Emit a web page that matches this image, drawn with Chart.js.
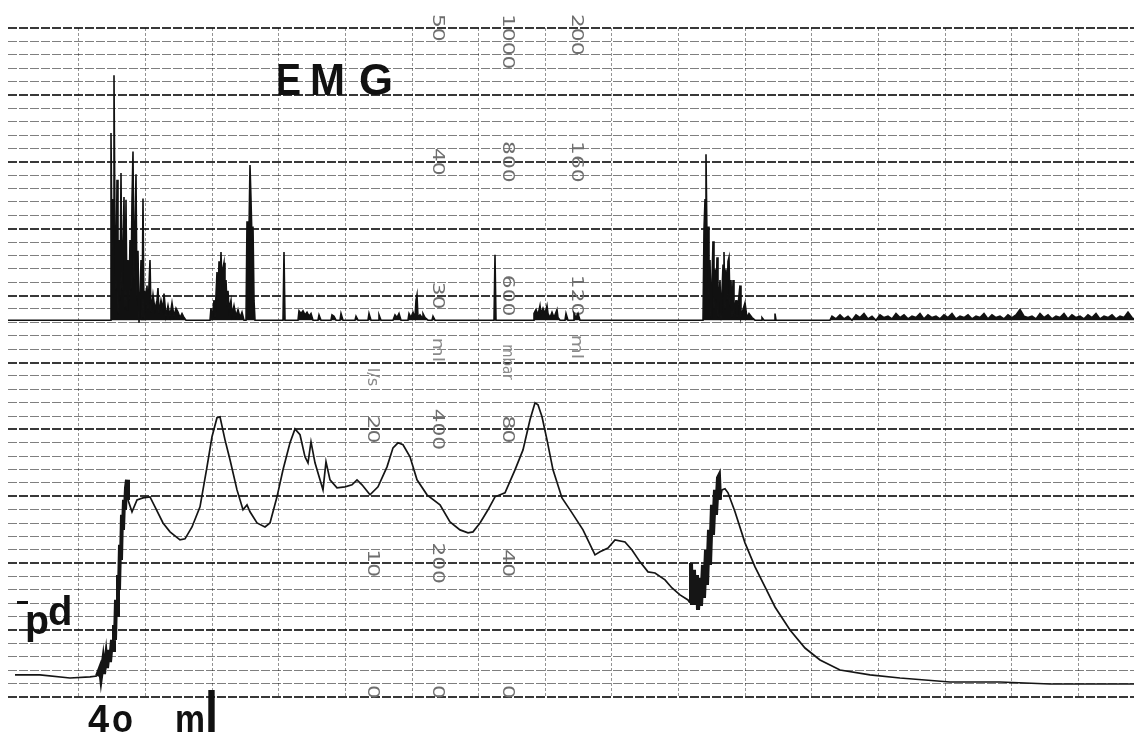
<!DOCTYPE html>
<html>
<head>
<meta charset="utf-8">
<script src="https://cdn.jsdelivr.net/npm/chart.js@4.4.1/dist/chart.umd.min.js"></script>
<style>
  html, body { margin: 0; padding: 0; background: #fff; }
  #wrap { width: 1134px; height: 734px; }
</style>
</head>
<body>
<div id="wrap"><canvas id="trace" width="1134" height="734"></canvas></div>
<script>
// flow trace: [time s, flow ml/s]  (pd channel, lower half of the strip)
const flowTrace = [
  [0.45,1.65],[4.2,1.65],[8.7,1.42],[11.7,1.5],[12.75,1.57],[13.2,2.17],[13.35,1.5],[13.65,2.62],
  [13.8,1.72],[14.1,2.99],[14.25,2.17],[14.55,3.52],[14.7,2.62],[15.0,4.26],[15.15,3.52],[15.3,5.39],
  [15.45,4.26],[15.6,7.26],[15.75,6.13],[15.9,9.12],[16.05,8.0],[16.2,11.37],[16.35,10.25],[16.5,13.61],
  [16.65,12.49],[16.8,14.73],[16.95,13.99],[17.1,15.63],[17.25,16.23],[17.4,14.73],[18.0,13.84],[18.75,14.73],
  [19.65,14.88],[20.7,14.96],[21.45,14.21],[22.65,13.01],[23.7,12.34],[25.2,11.74],[25.95,11.82],[27.0,12.71],
  [28.2,14.21],[29.25,17.2],[30.0,19.45],[30.75,20.87],[31.2,20.94],[31.95,19.22],[32.7,17.73],[33.75,15.48],
  [34.65,13.99],[35.25,14.36],[35.7,13.84],[36.75,13.01],[37.95,12.71],[38.7,13.01],[39.75,14.96],[40.65,16.98],
  [41.7,19.0],[42.45,20.04],[43.2,19.6],[43.95,17.95],[44.4,17.5],[44.85,19.07],[45.45,17.5],[46.2,16.23],
  [46.65,15.48],[47.1,17.58],[47.7,16.23],[48.75,15.63],[49.95,15.71],[51.0,15.86],[51.75,16.23],[52.5,15.86],
  [53.7,15.11],[54.9,15.71],[56.25,17.2],[57.15,18.62],[57.9,19.0],[58.65,18.85],[59.7,17.95],[60.75,16.23],
  [62.25,15.11],[64.2,14.36],[65.7,13.09],[67.2,12.49],[68.4,12.27],[69.15,12.34],[70.2,13.01],[71.4,13.99],
  [72.45,14.96],[73.95,15.26],[75.45,16.98],[76.65,18.47],[77.7,20.72],[78.45,21.99],[78.9,21.84],[79.5,20.94],
  [80.25,19.22],[81.15,16.98],[82.5,14.88],[84.0,13.76],[85.65,12.49],[87.45,10.62],[88.2,10.85],[89.4,11.14],
  [90.45,11.74],[91.95,11.59],[93.0,10.99],[94.2,10.1],[95.4,9.35],[96.45,9.27],[97.95,8.75],[99.0,8.15],
  [100.2,7.63],[101.4,7.25],[101.7,7.03],[101.85,10.02],[102.0,7.4],[102.3,9.5],[102.45,6.88],[102.75,9.12],
  [102.9,6.51],[103.2,8.9],[103.35,6.81],[103.65,9.87],[103.8,7.4],[104.1,10.99],[104.25,8.38],[104.55,12.49],
  [104.7,9.87],[105.0,14.36],[105.15,12.12],[105.45,15.48],[105.6,13.61],[105.9,16.38],[106.05,16.53],[106.2,14.73],
  [106.5,15.48],[106.95,15.56],[107.4,15.26],[108.45,13.84],[109.95,11.52],[111.45,9.72],[112.95,8.23],[114.45,6.73],
  [116.7,5.01],[118.95,3.66],[121.2,2.77],[124.2,2.02],[128.7,1.65],[133.2,1.42],[140.7,1.12],[148.2,1.12],
  [155.7,0.97],[168.3,0.97]
];

// EMG activity: [time s, amplitude above baseline]
const emgBurst1 = [
  [-0.6,0],[14.7,0],[14.85,140],[15.0,52],[15.15,90],[15.3,183],[15.45,68],[15.6,22],[15.75,105],[15.9,4],
  [16.05,60],[16.2,15],[16.35,110],[16.5,22],[16.65,52],[16.8,92],[16.95,8],[17.1,90],[17.25,8],[17.4,45],
  [17.55,15],[17.7,60],[17.85,22],[18.0,90],[18.15,126],[18.3,30],[18.45,68],[18.6,109],[18.75,15],[18.9,52],
  [19.05,-2],[19.2,15],[19.35,45],[19.5,0],[19.65,91],[19.8,0],[19.95,22],[20.1,11],[20.25,26],[20.4,8],
  [20.7,45],[20.85,6],[21.15,19],[21.45,8],[21.75,15],[21.9,24],[22.05,5],[22.35,15],[22.65,8],[22.8,20],
  [23.1,3],[23.4,11],[23.7,3],[24.0,13],[24.3,3],[24.6,9],[24.9,6],[25.2,2],[25.5,5],[25.8,2],[26.1,0]
];
const emgBurst2 = [
  [29.7,0],[29.85,9],[30.0,0],[30.3,15],[30.45,2],[30.75,36],[30.9,15],[31.05,44],[31.2,22],[31.35,51],
  [31.5,26],[31.65,39],[31.8,43],[31.95,19],[32.1,30],[32.25,11],[32.4,22],[32.55,8],[32.85,15],[33.0,4],
  [33.3,11],[33.6,3],[33.9,8],[34.2,2],[34.5,6],[34.8,0],[35.1,0],[35.25,74],[35.4,15],[35.55,68],
  [35.7,116],[35.85,90],[36.0,60],[36.15,70],[36.3,15],[36.45,0],[40.65,0],[40.8,51],[40.95,0]
];
const emgMid = [
  [42.9,0],[43.05,7],[43.35,5],[43.65,7],[43.95,4],[44.25,6],[44.55,3],[44.85,5],[45.15,0],[45.9,0],
  [46.05,4],[46.35,0],[47.85,0],[48.0,4],[48.3,3],[48.6,0],[49.2,0],[49.35,5],[49.65,0],[51.45,0],
  [51.6,3],[51.9,0],[53.4,0],[53.55,5],[53.85,0],[54.9,0],[55.05,4],[55.35,0],[57.15,0],[57.45,4],
  [57.75,2],[58.05,5],[58.35,0],[59.4,0],[59.55,5],[59.85,2],[60.15,6],[60.45,2],[60.6,15],[60.75,19],
  [60.9,2],[61.2,4],[61.5,2],[61.65,5],[61.95,2],[62.4,0],[63.0,0],[63.15,3],[63.45,0],[72.3,0],
  [72.45,49],[72.6,0],[78.15,0],[78.3,5],[78.6,8],[78.9,4],[79.2,11],[79.35,5],[79.65,9],[79.95,5],
  [80.25,11],[80.4,5],[80.7,2],[81.0,6],[81.3,2],[81.75,8],[81.9,2],[82.2,0],[82.95,0],[83.1,5],
  [83.4,0],[84.15,0],[84.3,5],[84.6,2],[84.9,5],[85.2,0]
];
const emgBurst3 = [
  [103.65,0],[103.8,68],[103.95,90],[104.1,124],[104.25,60],[104.4,70],[104.55,15],[104.7,45],[104.85,2],[105.0,30],
  [105.15,59],[105.3,8],[105.45,38],[105.6,15],[105.75,47],[105.9,2],[106.05,15],[106.2,30],[106.35,0],[106.5,22],
  [106.65,41],[106.8,51],[106.95,8],[107.1,38],[107.25,15],[107.4,44],[107.55,47],[107.7,11],[107.85,30],[108.0,2],
  [108.15,30],[108.3,4],[108.6,15],[108.75,2],[108.9,11],[109.2,26],[109.35,2],[109.65,8],[109.95,13],[110.25,2],
  [110.55,5],[111.0,2],[111.45,0],[112.35,0],[112.5,2],[112.8,0],[114.3,0],[114.45,5],[114.6,0],[122.7,0]
];
const emgTail = [
  [123.0,3],[123.6,1],[124.2,4],[124.8,1],[125.4,3],[126.0,0],[126.6,4],[127.2,2],[127.8,5],[128.4,1],
  [129.0,3],[129.6,0],[130.2,4],[130.8,2],[131.4,3],[132.0,1],[132.6,5],[133.2,2],[133.8,4],[134.4,1],
  [135.0,3],[135.6,2],[136.2,5],[136.8,1],[137.4,4],[138.0,2],[138.6,3],[139.2,1],[139.8,4],[140.4,2],
  [141.0,5],[141.6,1],[142.2,3],[142.8,2],[143.4,4],[144.0,1],[144.6,3],[145.2,2],[145.8,5],[146.4,1],
  [147.0,4],[147.6,2],[148.2,3],[148.8,1],[149.4,4],[150.0,2],[150.6,4],[151.2,8],[151.8,3],[152.4,2],
  [153.0,3],[153.6,1],[154.2,5],[154.8,2],[155.4,4],[156.0,1],[156.6,3],[157.2,2],[157.8,5],[158.4,1],
  [159.0,4],[159.6,2],[160.2,3],[160.8,1],[161.4,4],[162.0,2],[162.6,5],[163.2,1],[163.8,3],[164.4,2],
  [165.0,4],[165.6,1],[166.2,3],[166.8,2],[167.4,6],[168.0,2],[168.3,1]
];
const emgTrace = [...emgBurst1, ...emgBurst2, ...emgMid, ...emgBurst3, ...emgTail];

// stretches where the pen scribbled (drawn heavier)
const flowHeavy = [[12.7, 17.5], [101.6, 106.3]];

// printed scale labels on the paper (read top to bottom)
const upperLevels = [50, 40, 30];
const lowerLevels = [20, 10, 0];
const flowLabels  = ['20', '10', '0'];                        // l/s
const colALabels  = ['50', '40', '30', '400', '200', '0'];    // ml
const colBLabels  = ['1000', '800', '600', '80', '40', '0'];  // mbar
const colCLabels  = ['200', '160', '120'];                    // ml

const toXY = p => ({ x: p[0], y: p[1] });
const inHeavy = t => flowHeavy.some(r => t >= r[0] && t <= r[1]);

const paperText = {
  id: 'paperText',
  beforeDraw(chart) {
    const c = chart.ctx;
    c.save();
    c.fillStyle = '#fff';
    c.fillRect(0, 0, chart.width, chart.height);
    c.restore();
  },
  beforeDatasetsDraw(chart) {
    const c = chart.ctx;
    const { x, y } = chart.scales;
    const rot = (txt, px, py, stretch, alignTop) => {
      c.save();
      c.translate(px, py);
      c.rotate(Math.PI / 2);
      c.scale(stretch, 1);
      c.textAlign = alignTop ? 'left' : 'center';
      c.textBaseline = 'middle';
      c.fillText(txt, 0, 0);
      c.restore();
    };
    const levelY = lvl => {
      if (lvl === 50) return 14;
      if (lvl === 0) return y.getPixelForValue(0) - 5;
      return y.getPixelForValue(lvl);
    };
    c.save();
    c.fillStyle = '#6e6e6e';
    c.font = '15px "DejaVu Sans"';
    const cols = [
      { t: 54.0, labels: flowLabels, levels: lowerLevels },
      { t: 63.75, labels: colALabels, levels: upperLevels.concat(lowerLevels) },
      { t: 74.25, labels: colBLabels, levels: upperLevels.concat(lowerLevels) },
      { t: 84.6, labels: colCLabels, levels: upperLevels }
    ];
    cols.forEach(col => {
      const px = x.getPixelForValue(col.t);
      col.labels.forEach((txt, i) => {
        const lvl = col.levels[i];
        rot(txt, px, levelY(lvl), 1.45, lvl === 50);
      });
    });
    c.fillStyle = '#8a8a8a';
    rot('l/s', x.getPixelForValue(54.0), 377, 1.1, false);
    rot('ml', x.getPixelForValue(63.75), 350, 1.3, false);
    rot('mbar', x.getPixelForValue(74.25), 362, 0.9, false);
    rot('ml', x.getPixelForValue(84.6), 347, 1.3, false);
    c.restore();
  },
  afterDatasetsDraw(chart) {
    const c = chart.ctx;
    c.save();
    c.fillStyle = '#111';
    c.textBaseline = 'alphabetic';
    c.textAlign = 'left';
    c.font = 'bold 44px "Liberation Sans", Arial, sans-serif';
    c.fillText('E', 276, 95, 25);
    c.fillText('M', 310, 95, 35);
    c.fillText('G', 359, 95, 34);

    c.font = 'bold 40px "Liberation Sans", Arial, sans-serif';
    c.fillText('p', 25, 634, 24);
    c.fillText('d', 48, 625, 27);
    c.fillRect(17, 601, 11, 3);

    c.font = 'bold 38px "Liberation Sans", Arial, sans-serif';
    c.fillText('4', 88, 732, 24);
    c.fillText('o', 112, 732, 21);
    c.fillText('m', 175, 732, 30);
    c.font = 'bold 58px "Liberation Sans", Arial, sans-serif';
    c.fillText('l', 205, 732, 13);
    c.restore();
  }
};

new Chart(document.getElementById('trace'), {
  type: 'line',
  data: {
    datasets: [
      {
        label: 'pd',
        data: flowTrace.map(toXY),
        yAxisID: 'y',
        borderColor: '#151515',
        borderWidth: 1.7,
        pointRadius: 0,
        tension: 0,
        segment: {
          borderWidth: ctx => (inHeavy(ctx.p0.parsed.x) && inHeavy(ctx.p1.parsed.x) ? 4 : 1.7)
        }
      },
      {
        label: 'EMG',
        data: emgTrace.map(toXY),
        yAxisID: 'yEmg',
        borderColor: '#111',
        backgroundColor: '#111',
        fill: 'origin',
        borderWidth: 1.6,
        pointRadius: 0,
        tension: 0
      }
    ]
  },
  options: {
    responsive: false,
    devicePixelRatio: 1,
    animation: false,
    layout: { padding: { left: 8, top: 28, right: 0, bottom: 37 } },
    plugins: { legend: { display: false }, tooltip: { enabled: false } },
    scales: {
      x: {
        type: 'linear',
        min: -0.6,
        max: 168.3,
        ticks: { display: false, stepSize: 10 },
        afterBuildTicks: s => {
          s.ticks = s.ticks.filter(t => Math.abs(t.value / 10 - Math.round(t.value / 10)) < 1e-6);
        },
        grid: { drawTicks: false, color: 'rgba(0,0,0,0.42)', lineWidth: 1 },
        border: { display: false, dash: [3, 2] }
      },
      y: {
        min: 0,
        max: 50,
        ticks: { display: false, stepSize: 1 },
        grid: {
          drawTicks: false,
          color: c => (c.tick.value % 5 === 0 ? 'rgba(0,0,0,0.78)' : 'rgba(0,0,0,0.5)'),
          lineWidth: c => (c.tick.value % 5 === 0 ? 2 : 1)
        },
        border: { display: false, dash: [9, 2] }
      },
      yEmg: {
        position: 'right',
        min: -281.6,
        max: 218.4,
        display: false
      }
    }
  },
  plugins: [paperText]
});
</script>
</body>
</html>
